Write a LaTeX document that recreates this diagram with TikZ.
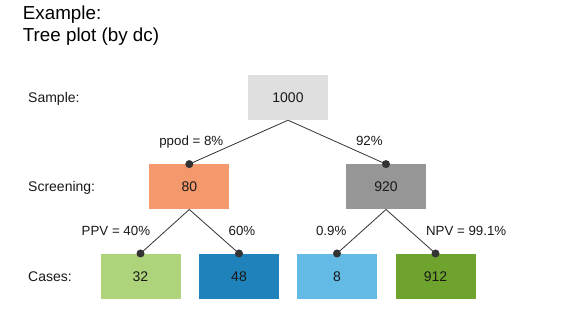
\documentclass[tikz,border=0pt]{standalone}
\usepackage{fontspec}
\setmainfont{Liberation Sans}
\definecolor{cTop}{HTML}{DFDFDF}
\definecolor{cPos}{HTML}{F4996B}
\definecolor{cNeg}{HTML}{969696}
\definecolor{cTP}{HTML}{ADD47A}
\definecolor{cFP}{HTML}{1F82BB}
\definecolor{cFN}{HTML}{63BBE5}
\definecolor{cTN}{HTML}{6EA42E}
\definecolor{cInk}{HTML}{333333}
\begin{document}
\begin{tikzpicture}[x=1pt,y=-1pt,
  box/.style={minimum width=80pt,minimum height=45pt,inner sep=0pt,draw=none,
    font=\fontsize{14}{16}\selectfont,text=black!90},
  rowlab/.style={anchor=base west,inner sep=0pt,font=\fontsize{14}{16}\selectfont,text=black!90},
  edgelab/.style={anchor=base,inner sep=0pt,font=\fontsize{13.3}{15}\selectfont,text=black!90},
  titlelab/.style={anchor=base west,inner sep=0pt,font=\fontsize{18.8}{22}\selectfont,text=black},
  dot/.style={circle,fill=cInk,inner sep=0pt,minimum size=8pt},
  link/.style={draw=cInk,line width=0.8pt}]
\useasboundingbox (0,0) rectangle (576,336);
% title
\node[titlelab] (t1) at (22.7,20) {Example:};
\node[titlelab] (t2) at (22.7,41.7) {Tree plot (by dc)};
% row labels
\node[rowlab] (lSample) at (28,102.5) {Sample:};
\node[rowlab] (lScreen) at (28,191.5) {Screening:};
\node[rowlab] (lCases) at (28,281.2) {Cases:};
% boxes
\node[box,fill=cTop] (n1000) at (288,97.5) {1000};
\node[box,fill=cPos] (n80) at (189.3,186.8) {80};
\node[box,fill=cNeg] (n920) at (386,186.8) {920};
\node[box,fill=cTP] (n32) at (140.5,276.2) {32};
\node[box,fill=cFP] (n48) at (239,276.2) {48};
\node[box,fill=cFN] (n8) at (337,276.2) {8};
\node[box,fill=cTN] (n912) at (435.5,276.2) {912};
% connectors
\coordinate (d80) at (n80.north);
\coordinate (d920) at (n920.north);
\coordinate (d32) at (n32.north);
\coordinate (d48) at (n48.north);
\coordinate (d8) at (n8.north);
\coordinate (d912) at (n912.north);
\draw[link] (d80) -- (n1000.south) -- (d920);
\draw[link] (d32) -- (n80.south) -- (d48);
\draw[link] (d8) -- (n920.south) -- (d912);
\foreach \d in {d80,d920,d32,d48,d8,d912} \node[dot] at (\d) {};
% edge labels
\node[edgelab] (e1) at (191.3,146) {ppod = 8\%};
\node[edgelab] (e2) at (369.4,146) {92\%};
\node[edgelab] (e3) at (115.9,235.7) {PPV = 40\%};
\node[edgelab] (e4) at (242,235.7) {60\%};
\node[edgelab] (e5) at (331.2,235.7) {0.9\%};
\node[edgelab] (e6) at (466.2,235.7) {NPV = 99.1\%};
\end{tikzpicture}
\end{document}
